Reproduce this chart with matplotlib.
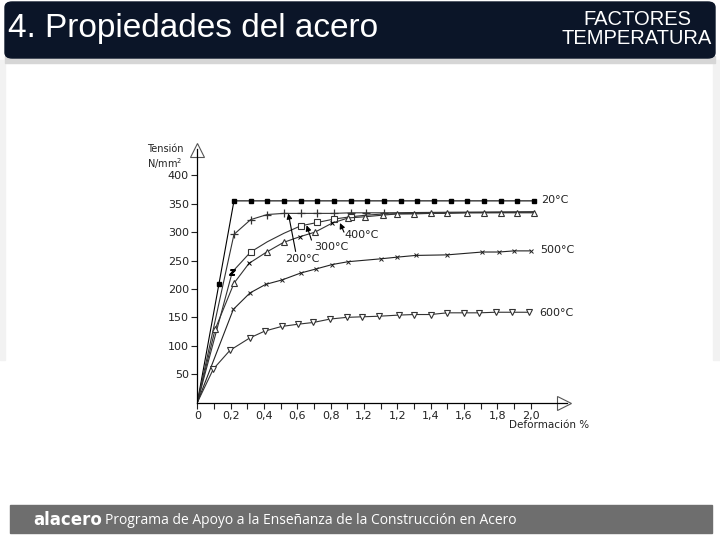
import matplotlib
matplotlib.use('Agg')
import matplotlib.pyplot as plt
from matplotlib.patches import FancyBboxPatch, Rectangle

# Curvas tension-deformacion del acero a distintas temperaturas
x20 = [0, 0.13, 0.22, 0.32, 0.42, 0.52, 0.62, 0.72, 0.82, 0.92, 1.02, 1.12,
       1.22, 1.32, 1.42, 1.52, 1.62, 1.72, 1.82, 1.92, 2.02]
y20 = [0, 209, 355, 355, 355, 355, 355, 355, 355, 355, 355, 355,
       355, 355, 355, 355, 355, 355, 355, 355, 355]

x200 = [0, 0.22, 0.32, 0.42, 0.52, 0.62, 0.72, 0.82, 0.92, 1.01, 1.12, 1.5, 2.02]
y200 = [0, 296, 322, 331, 333, 333, 333, 333, 334, 334, 334, 335, 336]

x300 = [0, 0.21, 0.32, 0.42, 0.52, 0.62, 0.72, 0.82, 0.92, 1.02, 1.12, 1.5, 2.02]
y300 = [0, 230, 265, 283, 298, 311, 317, 323, 327, 330, 332, 334, 335]

x400 = [0, 0.107, 0.22, 0.31, 0.416, 0.518, 0.616, 0.706, 0.81, 0.906, 1.006,
        1.116, 1.2, 1.3, 1.4, 1.5, 1.62, 1.72, 1.82, 1.92, 2.02]
y400 = [0, 129, 210, 245, 265, 282, 292, 300, 316, 325, 327,
        330, 332, 332, 333, 333, 334, 334, 334, 334, 334]

x500 = [0, 0.216, 0.316, 0.41, 0.51, 0.62, 0.71, 0.81, 0.906, 1.10, 1.20, 1.31,
        1.50, 1.71, 1.81, 1.90, 2.00]
y500 = [0, 164, 193, 208, 216, 228, 235, 243, 248, 253, 256, 259,
        260, 265, 265, 267, 267]

x600 = [0, 0.096, 0.196, 0.316, 0.406, 0.506, 0.606, 0.696, 0.796, 0.896, 0.99,
        1.09, 1.21, 1.30, 1.40, 1.50, 1.60, 1.69, 1.79, 1.89, 1.99]
y600 = [0, 59, 92, 114, 126, 134, 138, 141, 147, 150, 151,
        152, 154, 155, 155, 158, 158, 158, 159, 159, 159]

xticks = [0, 0.2, 0.4, 0.6, 0.8, 1.0, 1.2, 1.4, 1.6, 1.8, 2.0]
xlabels = ['0', '0,2', '0,4', '0,6', '0,8', '1,2', '1,2', '1,4', '1,6', '1,8', '2,0']
yticks = [50, 100, 150, 200, 250, 300, 350, 400]

fig = plt.figure(figsize=(7.2, 5.4), dpi=100)

# bordes grises laterales de la diapositiva (muy tenues)
fig.patches.append(Rectangle((0, 1 - 360 / 540), 5 / 720, 300 / 540,
                             transform=fig.transFigure, color='#f2f2f2', zorder=0))
fig.patches.append(Rectangle((713 / 720, 1 - 360 / 540), 7 / 720, 300 / 540,
                             transform=fig.transFigure, color='#f2f2f2', zorder=0))

# cabecera de la diapositiva
fig.patches.append(Rectangle((5 / 720, 1 - 63 / 540), 710 / 720, 7 / 540,
                             transform=fig.transFigure, color='#d6d6d6', zorder=0))
fig.patches.append(FancyBboxPatch((5 / 720, 1 - 58 / 540), 710 / 720, 56 / 540,
                                  boxstyle='round,pad=0,rounding_size=0.01',
                                  transform=fig.transFigure, color='#0b1528', zorder=1))
fig.text(8 / 720, 1 - 28 / 540, '4. Propiedades del acero', color='white',
         fontsize=24, family='Liberation Sans', va='center', ha='left')
fig.text(637 / 720, 1 - 29 / 540, 'FACTORES\nTEMPERATURA', color='white',
         fontsize=14.5, family='Liberation Sans', va='center', ha='center',
         linespacing=1.05)

# pie de pagina
fig.patches.append(Rectangle((10 / 720, 1 - 533 / 540), 702 / 720, 28 / 540,
                             transform=fig.transFigure, color='#6e6e6e', zorder=1))
fig.text(33 / 720, 1 - 520 / 540, 'alacero', color='white', fontsize=12,
         fontweight='bold', family='DejaVu Sans', va='center', ha='left')
fig.text(105 / 720, 1 - 521 / 540,
         'Programa de Apoyo a la Enseñanza de la Construcción en Acero',
         color='white', fontsize=10, family='Open Sans', va='center', ha='left')

# grafico
ax = fig.add_axes([197.3 / 720, 1 - 402.6 / 540, 370 / 720, 254 / 540])
ax.set_xlim(0, 2.22)
ax.set_ylim(0, 447)
for s in ['top', 'right']:
    ax.spines[s].set_visible(False)
ax.spines['left'].set_linewidth(0.9)
ax.spines['bottom'].set_linewidth(0.9)

lw = 0.8
ax.plot(x20, y20, color='black', lw=lw, marker='s', ms=3.5, mfc='black',
        markevery=list(range(1, len(x20))))
ax.plot(x200, y200, color='#333333', lw=lw, marker='+', ms=6, mew=0.9,
        markevery=list(range(1, 11)))
ax.plot(x300, y300, color='#333333', lw=lw, marker='s', ms=4, mfc='white',
        mew=0.8, markevery=[2, 5, 6, 7, 8])
ax.plot([x300[1]], [y300[1]], ls='none', marker='$z$', ms=4, color='black')
ax.plot(x400, y400, color='#333333', lw=lw, marker='^', ms=5, mfc='white',
        mew=0.8, markevery=[1, 2, 4, 5, 7, 9, 10, 11, 12, 13, 14, 15, 16, 17, 18, 19, 20])
ax.plot([x400[3], x400[6], x400[8]], [y400[3], y400[6], y400[8]], ls='none',
        marker='x', ms=3, mew=0.7, color='black')
ax.plot(x500, y500, color='#222222', lw=lw, marker='x', ms=3, mew=0.7,
        markevery=list(range(1, len(x500))))
ax.plot(x600, y600, color='#333333', lw=lw, marker='v', ms=5, mfc='white',
        mew=0.8, markevery=list(range(1, len(x600))))

ax.set_xticks(xticks)
ax.set_xticklabels(xlabels)
ax.set_xticks([0.1, 0.3, 0.5, 0.7, 0.9, 1.1, 1.3, 1.5, 1.7, 1.9], minor=True)
ax.set_yticks(yticks)
ax.set_yticklabels([str(v) for v in yticks])
ax.tick_params(axis='both', which='both', length=4, width=0.8, labelsize=8,
               colors='#222222', pad=2)

# flechas de los ejes
ax.plot([0], [444], marker='^', ms=10, mfc='white', mec='#555555', mew=0.8,
        clip_on=False)
ax.plot([2.2], [0], marker='>', ms=10, mfc='white', mec='#555555', mew=0.8,
        clip_on=False)

tf = dict(fontsize=8, color='#222222')
ax.text(2.06, 357, '20°C', va='center', ha='left', **tf)
ax.text(2.06, 268, '500°C', va='center', ha='left', **tf)
ax.text(2.05, 158, '600°C', va='center', ha='left', **tf)
ax.text(-0.3, 432, 'Tensión\nN/mm$^2$', va='center', ha='left', fontsize=7,
        linespacing=1.2, color='#222222')
ax.text(2.35, -40, 'Deformación %', va='center', ha='right', fontsize=7.5,
        color='#222222')

# flechas de las etiquetas
ap = dict(arrowstyle='-|>', color='black', lw=0.8, mutation_scale=8,
          shrinkA=0, shrinkB=0)
ax.annotate('', xy=(0.546, 333), xytext=(0.59, 266), arrowprops=ap)
ax.annotate('', xy=(0.656, 312), xytext=(0.685, 286), arrowprops=ap)
ax.annotate('', xy=(0.856, 316), xytext=(0.88, 300), arrowprops=ap)
ax.text(0.63, 253, '200°C', ha='center', va='center', **tf)
ax.text(0.806, 274, '300°C', ha='center', va='center', **tf)
ax.text(0.986, 295, '400°C', ha='center', va='center', **tf)

plt.savefig('out.png', dpi=100)
